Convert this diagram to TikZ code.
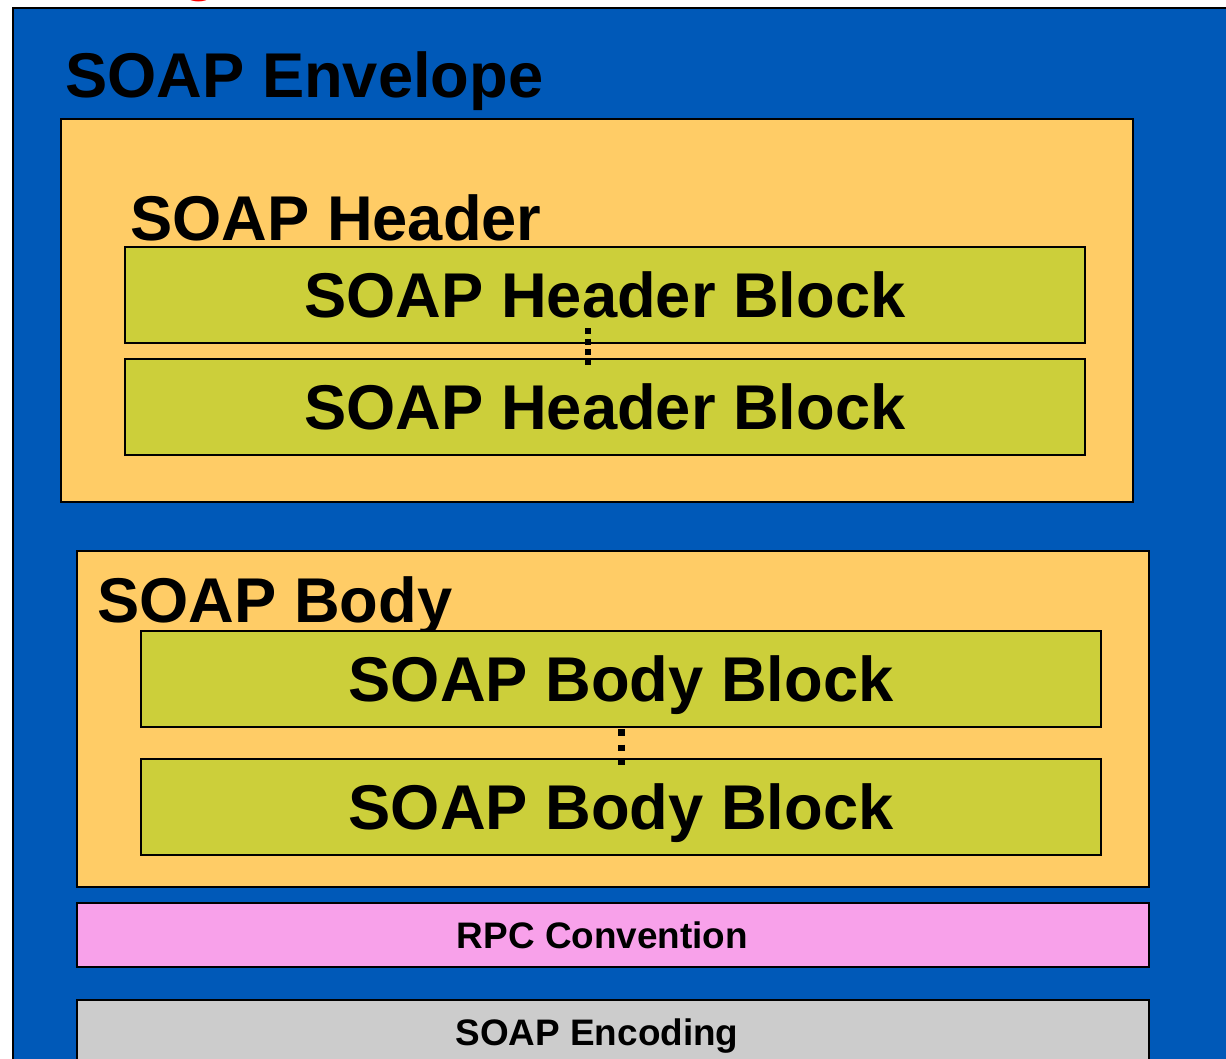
\documentclass[tikz,border=0pt]{standalone}
\usepackage{fontspec}
\setmainfont{Liberation Sans}
\usetikzlibrary{positioning}
\definecolor{envblue}{RGB}{0,89,184}
\definecolor{partorange}{RGB}{255,204,102}
\definecolor{blockgreen}{RGB}{204,207,58}
\definecolor{rpcpink}{RGB}{248,161,234}
\definecolor{encgray}{RGB}{204,204,204}
\tikzset{
  box/.style={draw=black, line width=1.2pt, inner sep=0pt, minimum width=21.44cm},
  part/.style={box, fill=partorange},
  block/.style={box, fill=blockgreen, minimum width=19.2cm, minimum height=1.92cm,
    font=\fontsize{36}{40}\selectfont\bfseries, text height=0.9cm, text depth=0pt},
  title/.style={anchor=base west, inner sep=0pt, font=\fontsize{36}{40}\selectfont\bfseries},
  small/.style={inner sep=0pt, font=\fontsize{21}{24}\selectfont\bfseries},
  dots/.style={line width=0.13cm, dash pattern=on 0.12cm off 0.09cm}
}
\begin{document}
\begin{tikzpicture}[x=0.02cm, y=-0.02cm]
  \useasboundingbox (0,0) rectangle (1226,1058);
  % red heading, cut off by the page
  \node[anchor=base west, inner sep=0pt, text=red, font=\fontsize{36}{40}\selectfont\bfseries] (head) at (180,-11) {g};
  % envelope
  \node[draw=black, line width=1.2pt, fill=envblue, anchor=north west, minimum width=24.6cm, minimum height=21.3cm] (env) at (12,7) {};
  \node[title] (envtitle) at (65,97) {SOAP Envelope};
  % header
  \node[part, minimum height=7.66cm] (header) at (597,310.5) {};
  \node[title] (headertitle) at (130,240) {SOAP Header};
  \node[block] (hb1) at (605,295) {SOAP Header Block};
  \node[block] (hb2) at (605,407) {SOAP Header Block};
  \draw[dots] ([xshift=-0.34cm, yshift=0.32cm]hb1.south) -- ([xshift=-0.34cm, yshift=-0.14cm]hb2.north);
  % body
  \node[part, minimum height=6.72cm] (body) at (613,719) {};
  \node[title] (bodytitle) at (97,622) {SOAP Body};
  \node[block] (bb1) at (621,679) {SOAP Body Block};
  \node[block] (bb2) at (621,807) {SOAP Body Block};
  \draw[dots, line width=0.14cm, dash pattern=on 0.13cm off 0.18cm] ([yshift=-0.02cm]bb1.south) -- ([yshift=-0.14cm]bb2.north);
  % conventions
  \node[box, fill=rpcpink, minimum height=1.28cm] (rpc) at (613,935) {};
  \node[small] (rpctext) at (602.5,935.5) {RPC Convention};
  \node[box, fill=encgray, minimum height=2cm, anchor=north] (enc) at (613,999) {};
  \node[small, anchor=base] (enctext) at (597,1045) {SOAP Encoding};
\end{tikzpicture}
\end{document}
